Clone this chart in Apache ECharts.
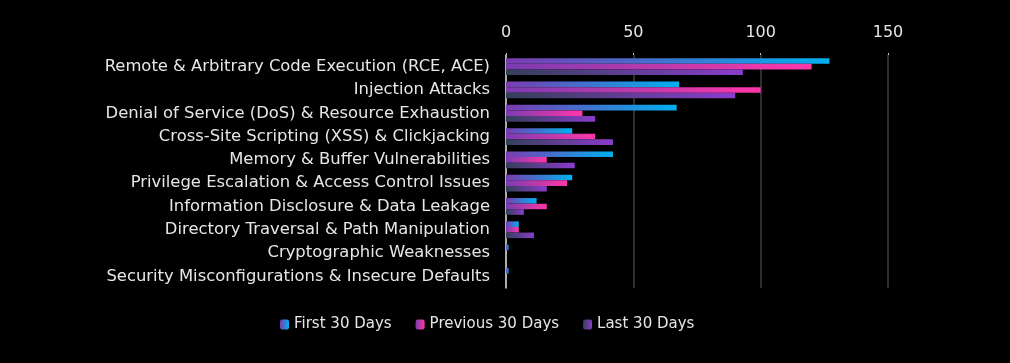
<!DOCTYPE html>
<html><head><meta charset="utf-8">
<script src="https://cdn.jsdelivr.net/npm/echarts@6/dist/echarts.min.js"></script>
<style>html,body{margin:0;padding:0;background:#000;}#c{width:1010px;height:363px;}</style>
</head><body><div id="c"></div>
<script>
const categories = [
  "Remote & Arbitrary Code Execution (RCE, ACE)",
  "Injection Attacks",
  "Denial of Service (DoS) & Resource Exhaustion",
  "Cross-Site Scripting (XSS) & Clickjacking",
  "Memory & Buffer Vulnerabilities",
  "Privilege Escalation & Access Control Issues",
  "Information Disclosure & Data Leakage",
  "Directory Traversal & Path Manipulation",
  "Cryptographic Weaknesses",
  "Security Misconfigurations & Insecure Defaults"
];
const seriesNames = ["First 30 Days", "Previous 30 Days", "Last 30 Days"];
const first30 = [127, 68, 67, 26, 42, 26, 12, 5, 1, 1];
const previous30 = [120, 100, 30, 35, 16, 24, 16, 5, 0, 0];
const last30 = [93, 90, 35, 42, 27, 16, 7, 11, 0, 0];
const xTicks = [0, 50, 100, 150];

function grad(a, b) {
  return new echarts.graphic.LinearGradient(0, 0, 1, 0, [
    {offset: 0, color: a}, {offset: 1, color: b}
  ]);
}
const colors = [
  grad('#7a3cb0', '#00b0f0'),
  grad('#7a3cb0', '#ff37a8'),
  grad('#34405a', '#8a3ccc')
];
const FONT = 'DejaVu Sans';
const chart = echarts.init(document.getElementById('c'));
chart.setOption({
  backgroundColor: '#000',
  animation: false,
  textStyle: {fontFamily: FONT},
  grid: {left: 506, right: 122, top: 55, height: 233},
  xAxis: {
    type: 'value', position: 'top', min: xTicks[0], max: xTicks[xTicks.length - 1], interval: 50,
    axisLine: {show: false},
    axisTick: {show: true, length: 2, lineStyle: {color: '#bfbfbf'}},
    axisLabel: {color: '#e6e6e6', fontSize: 16, fontFamily: FONT, margin: 14},
    splitLine: {show: true, lineStyle: {color: '#3f3f3f', width: 1.5}}
  },
  yAxis: {
    type: 'category', data: categories, inverse: true,
    axisLine: {show: true, lineStyle: {color: '#d9d9d9', width: 1.5}},
    axisTick: {show: false},
    axisLabel: {color: '#e6e6e6', fontSize: 16.4, fontFamily: FONT, margin: 16}
  },
  legend: {
    bottom: 26, left: 275, itemWidth: 9, itemHeight: 10, itemGap: 24,
    textStyle: {color: '#e6e6e6', fontSize: 15, fontFamily: FONT},
    data: seriesNames
  },
  series: [first30, previous30, last30].map((d, i) => ({
    name: seriesNames[i], type: 'bar', data: d,
    barGap: '0%', barCategoryGap: '28%',
    itemStyle: {color: colors[i]}
  }))
});
</script></body></html>
